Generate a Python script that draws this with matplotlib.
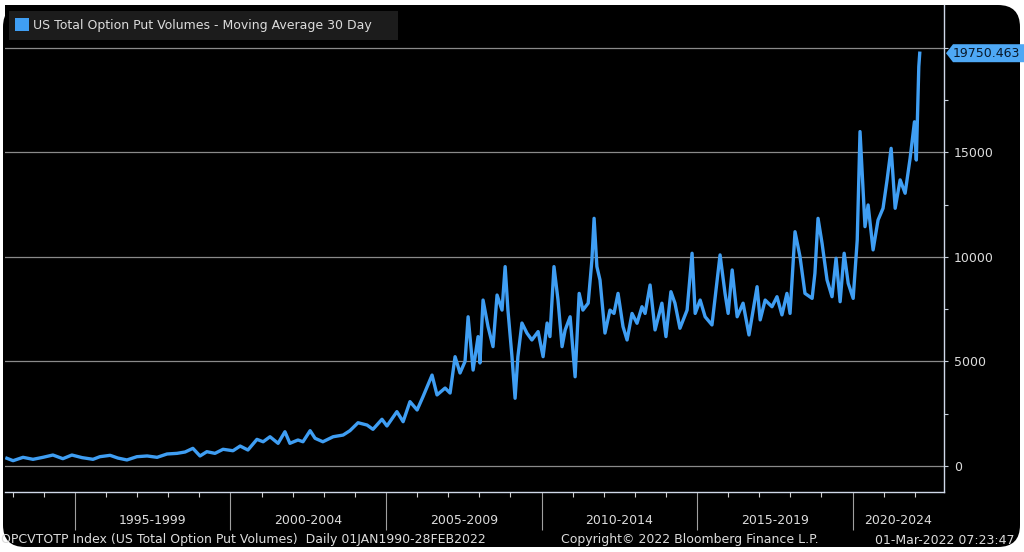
import matplotlib
matplotlib.use('Agg')
import matplotlib.pyplot as plt
from matplotlib.patches import FancyBboxPatch, Polygon, Rectangle
from matplotlib.transforms import IdentityTransform, blended_transform_factory

# data (decimal years, 30 day moving average of put volume)
dates = [1992.81, 1993.01, 1993.33, 1993.65, 1993.97, 1994.29, 1994.61, 1994.90,
         1995.23, 1995.58, 1995.80, 1996.13, 1996.38, 1996.67, 1996.99, 1997.32,
         1997.64, 1997.96, 1998.28, 1998.54, 1998.79, 1999.02, 1999.24, 1999.50,
         1999.76, 2000.08, 2000.31, 2000.56, 2000.85, 2001.05, 2001.27, 2001.53,
         2001.75, 2001.91, 2002.17, 2002.33, 2002.56, 2002.72, 2002.97, 2003.30,
         2003.62, 2003.84, 2004.10, 2004.39, 2004.58, 2004.87, 2005.03, 2005.35,
         2005.55, 2005.77, 2006.00, 2006.19, 2006.48, 2006.64, 2006.90, 2007.06,
         2007.22, 2007.38, 2007.54, 2007.64, 2007.80, 2007.96, 2008.02, 2008.12,
         2008.28, 2008.44, 2008.57, 2008.73, 2008.83, 2008.92, 2009.05, 2009.15,
         2009.24, 2009.37, 2009.53, 2009.69, 2009.89, 2010.05, 2010.18, 2010.27,
         2010.40, 2010.53, 2010.66, 2010.76, 2010.92, 2011.08, 2011.21, 2011.33,
         2011.50, 2011.62, 2011.69, 2011.78, 2011.88, 2012.04, 2012.20, 2012.33,
         2012.46, 2012.62, 2012.75, 2012.91, 2013.07, 2013.23, 2013.33, 2013.49,
         2013.65, 2013.87, 2014.00, 2014.16, 2014.29, 2014.45, 2014.68, 2014.84,
         2014.94, 2015.10, 2015.26, 2015.48, 2015.74, 2015.90, 2016.00, 2016.13,
         2016.29, 2016.48, 2016.67, 2016.93, 2017.03, 2017.19, 2017.41, 2017.57,
         2017.73, 2017.89, 2017.99, 2018.15, 2018.31, 2018.47, 2018.70, 2018.79,
         2018.89, 2019.02, 2019.18, 2019.34, 2019.47, 2019.60, 2019.73, 2019.86,
         2020.02, 2020.15, 2020.24, 2020.34, 2020.40, 2020.50, 2020.66, 2020.82,
         2020.98, 2021.11, 2021.24, 2021.37, 2021.53, 2021.69, 2021.85, 2021.99,
         2022.05, 2022.13, 2022.16]
put_vol = [370, 255, 415, 320, 415, 525, 350, 525,
           400, 320, 445, 510, 380, 290, 445, 480,
           415, 575, 605, 670, 845, 480, 685, 605,
           800, 730, 955, 765, 1275, 1160, 1400, 1085,
           1640, 1085, 1245, 1160, 1690, 1325, 1160, 1400,
           1480, 1690, 2070, 1960, 1755, 2235, 1915, 2600,
           2120, 3080, 2680, 3320, 4350, 3400, 3730, 3490,
           5230, 4450, 5000, 7140, 4590, 6190, 4930, 7940,
           6670, 5710, 8180, 7460, 9540, 7460, 5230, 3240,
           5230, 6840, 6360, 6030, 6430, 5230, 6840, 6190,
           9540, 7940, 5710, 6510, 7140, 4270, 8260, 7460,
           7790, 9860, 11850, 9540, 8900, 6360, 7460, 7300,
           8260, 6670, 6030, 7300, 6830, 7620, 7300, 8660,
           6510, 7790, 6190, 8340, 7790, 6590, 7460, 10180,
           7300, 7940, 7140, 6750, 10100, 8260, 7300, 9380,
           7140, 7790, 6270, 8580, 6990, 7940, 7620, 8100,
           7230, 8260, 7300, 11210, 10020, 8260, 8020, 9220,
           11850, 10650, 8900, 8100, 9940, 7860, 10180, 8740,
           8020, 10810, 16000, 13200, 11450, 12490, 10340, 11770,
           12330, 13690, 15200, 12330, 13690, 13050, 14720, 16470,
           14640, 19110, 19750.463]

period_starts = [1995, 2000, 2005, 2010, 2015, 2020]
ytick_vals = [0, 5000, 10000, 15000, 20000]
ytick_labels = ['0', '5000', '10000', '15000', '']

title = 'US Total Option Put Volumes - Moving Average 30 Day'
footer_left = 'OPCVTOTP Index (US Total Option Put Volumes)  Daily 01JAN1990-28FEB2022'
footer_mid = 'Copyright\u00a9 2022 Bloomberg Finance L.P.'
footer_right = '01-Mar-2022 07:23:47'

blue = '#3f9ef3'
txt = '#dcdcdc'
W, H = 1024, 552

plt.rcParams['font.family'] = ['DejaVu Sans']
fig = plt.figure(figsize=(W / 100, H / 100), dpi=100, facecolor='white')

# black rounded panel (screenshot frame)
panel = FancyBboxPatch((3, 5), 1017, 542, boxstyle='round,pad=0,rounding_size=22',
                       transform=IdentityTransform(), fc='black', ec='none', zorder=-10)
fig.add_artist(panel)

ax = fig.add_axes([5 / W, 1 - 492 / H, 939 / W, 487 / H])
ax.set_facecolor('black')

ax.plot(dates, put_vol, color=blue, lw=2.4, solid_joinstyle='round', zorder=3)

xmin, xmax = 1992.75, 2022.94
ax.set_xlim(xmin, xmax)
ax.set_ylim(-1244, 22057)

# y axis on the right
ax.yaxis.tick_right()
ax.set_yticks(ytick_vals)
ax.set_yticklabels(ytick_labels)
ax.set_yticks([2500, 7500, 12500, 17500], minor=True)
ax.grid(axis='y', which='major', color='#8a8a8a', lw=0.9)
ax.tick_params(axis='y', which='both', direction='out', length=3, width=0.8,
               color='#c8d0dc', labelcolor=txt, labelsize=9, pad=4)

# x axis: yearly minor ticks, long separators every 5 years
ax.set_xticks(period_starts)
ax.set_xticklabels([])
ax.set_xticks(range(1993, 2023), minor=True)
ax.tick_params(axis='x', which='major', direction='out', length=27, width=0.8, color='#a0a0a0')
ax.tick_params(axis='x', which='minor', direction='out', length=3.5, width=0.8, color='#d0d0d0')

for s in ['left', 'top']:
    ax.spines[s].set_visible(False)
for s in ['right', 'bottom']:
    ax.spines[s].set_color('#cfd8e8')
    ax.spines[s].set_linewidth(1.0)

trans = blended_transform_factory(ax.transData, ax.transAxes)
for s in period_starts:
    lo = max(s, xmin)
    hi = min(s + 5, xmax)
    ax.text((lo + hi) / 2, -29 / 487, f'{s}-{s + 4}', transform=trans, ha='center',
            va='center', color=txt, fontsize=9)

# legend box top left
fig.add_artist(Rectangle((9, H - 40), 389, 29, transform=IdentityTransform(),
                         fc='#1c1c1c', ec='none', zorder=5))
fig.add_artist(Rectangle((15, H - 31), 14, 13, transform=IdentityTransform(),
                         fc=blue, ec='none', zorder=6))
fig.text(33 / W, 1 - 25 / H, title, color=txt, fontsize=9, va='center', ha='left', zorder=7)

# last value tag on the right axis
last = put_vol[-1]
fig.canvas.draw()
xd, yd = ax.transData.transform((xmax, last))
tag = Polygon([(xd + 2, yd), (xd + 9, yd + 9), (W + 2, yd + 9), (W + 2, yd - 9), (xd + 9, yd - 9)],
              closed=True, transform=IdentityTransform(), fc='#4ea8f5', ec='none', zorder=8)
fig.add_artist(tag)
fig.text((xd + 9) / W, yd / H, f'{last:.3f}', color='#08182a', fontsize=9,
         va='center', ha='left', zorder=9)

# footer line
fig.text(1 / W, 12 / H, footer_left, color=txt, fontsize=9, va='center', ha='left')
fig.text(561 / W, 12 / H, footer_mid, color=txt, fontsize=9, va='center', ha='left')
fig.text(875 / W, 12 / H, footer_right, color=txt, fontsize=9, va='center', ha='left')

fig.savefig('out.png', dpi=100, facecolor='white')
